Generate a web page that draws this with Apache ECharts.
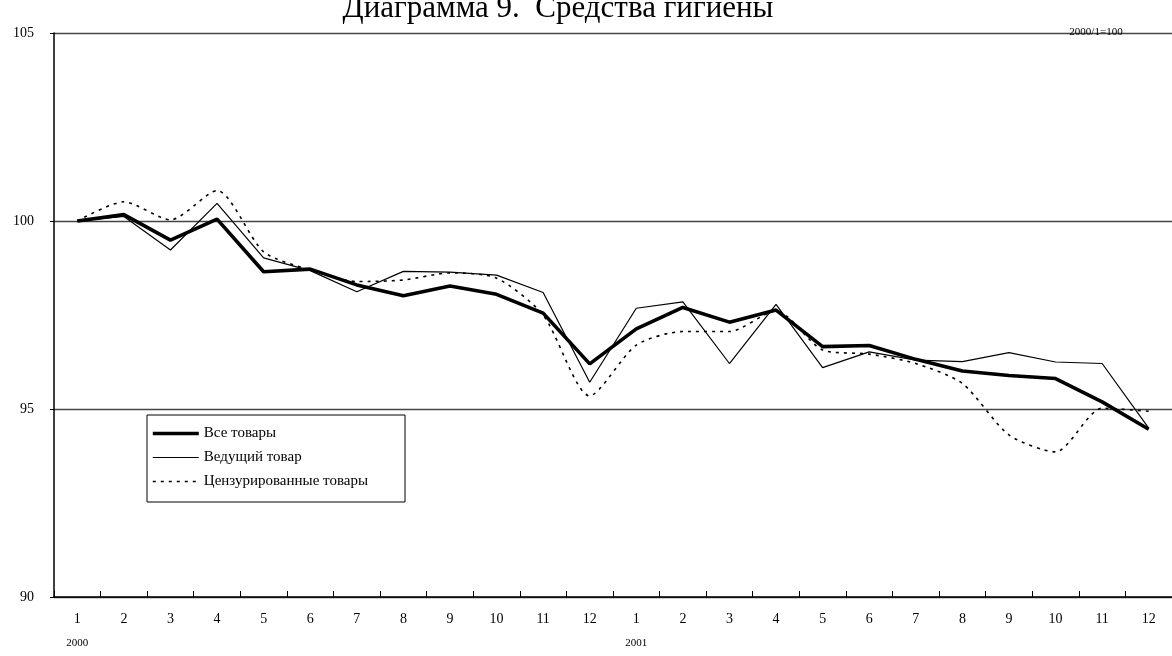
<!DOCTYPE html>
<html>
<head>
<meta charset="utf-8">
<script src="https://cdn.jsdelivr.net/npm/echarts@6/dist/echarts.min.js"></script>
<style>
  html, body { margin: 0; padding: 0; background: #fff; }
  #chart { width: 1172px; height: 656px; }
</style>
</head>
<body>
<div id="chart"></div>
<script>
// Monthly index of hygiene products, 2000/1 = 100
const months = ['1','2','3','4','5','6','7','8','9','10','11','12',
                '1','2','3','4','5','6','7','8','9','10','11','12'];
const years = ['2000','','','','','','','','','','','',
               '2001','','','','','','','','','','',''];

const allGoods = [100.0, 100.17, 99.49, 100.05, 98.65, 98.72, 98.30, 98.01, 98.27, 98.05, 97.55, 96.20,
                  97.13, 97.70, 97.31, 97.63, 96.66, 96.69, 96.32, 96.01, 95.89, 95.81, 95.19, 94.46];
const leadingGood = [100.0, 100.12, 99.23, 100.47, 99.02, 98.68, 98.12, 98.66, 98.64, 98.56, 98.10, 95.71,
                     97.68, 97.85, 96.21, 97.78, 96.10, 96.52, 96.30, 96.26, 96.50, 96.25, 96.21, 94.49];
const censoredGoods = [100.0, 100.51, 100.03, 100.81, 99.18, 98.70, 98.39, 98.43, 98.62, 98.48, 97.50, 95.35,
                       96.70, 97.06, 97.06, 97.61, 96.57, 96.46, 96.21, 95.68, 94.31, 93.86, 95.02, 94.94];

const seriesNames = ['Все товары', 'Ведущий товар', 'Цензурированные товары'];
const yTicks = [90, 95, 100, 105];

const serif = '"Liberation Serif", "DejaVu Serif", serif';

// line styles shared by the series and their legend keys
const styles = [
  { color: '#000', width: 3.6, type: 'solid' },
  { color: '#000', width: 1.2, type: 'solid' },
  { color: '#000', width: 1.6, type: [3, 5] }
];

const chart = echarts.init(document.getElementById('chart'), null, { renderer: 'canvas' });

chart.setOption({
  animation: false,
  backgroundColor: '#fff',
  color: ['#000', '#000', '#000'],
  textStyle: { fontFamily: serif, color: '#000' },
  title: [
    {
      text: 'Диаграмма 9.  Средства гигиены',
      left: 553, top: -12, textAlign: 'center',
      textStyle: { fontFamily: serif, fontSize: 31, fontWeight: 'normal', color: '#000' }
    },
    {
      text: '2000/1=100',
      left: 1091, top: 22, textAlign: 'center',
      textStyle: { fontFamily: serif, fontSize: 11, fontWeight: 'normal', color: '#000' }
    }
  ],
  legend: {
    orient: 'vertical',
    left: 147, top: 415,
    data: seriesNames.map(function (n, i) {
      return { name: n, lineStyle: styles[i] };
    }),
    itemWidth: 46, itemHeight: 12, itemGap: 9,
    itemStyle: { opacity: 0 },
    padding: [11, 37, 13, 4],
    backgroundColor: '#fff',
    borderColor: '#000', borderWidth: 1,
    textStyle: { fontFamily: serif, fontSize: 15, color: '#000' }
  },
  grid: { left: 54, right: 0, top: 33, bottom: 59, containLabel: false },
  xAxis: {
    type: 'category',
    data: months,
    boundaryGap: true,
    axisLine: { show: true, lineStyle: { color: '#000', width: 1.5 } },
    axisTick: { show: true, inside: true, length: 6, lineStyle: { color: '#000' } },
    axisLabel: {
      interval: 0, margin: 12,
      formatter: function (v, i) {
        return years[i] ? '{m|' + v + '}\n{y|' + years[i] + '}' : '{m|' + v + '}';
      },
      rich: {
        m: { fontFamily: serif, fontSize: 14, lineHeight: 20, color: '#000' },
        y: { fontFamily: serif, fontSize: 11, lineHeight: 28, color: '#000' }
      }
    },
    splitLine: { show: false }
  },
  yAxis: {
    type: 'value',
    min: yTicks[0], max: yTicks[yTicks.length - 1], interval: 5,
    axisLine: { show: true, lineStyle: { color: '#000', width: 1.5 } },
    axisTick: { show: true, length: 4, lineStyle: { color: '#000' } },
    axisLabel: { fontFamily: serif, fontSize: 14, color: '#000', margin: 20 },
    splitLine: { show: true, lineStyle: { color: '#444', width: 1.3 } }
  },
  series: [
    {
      name: seriesNames[0], type: 'line', data: allGoods,
      symbol: 'none', z: 5,
      lineStyle: styles[0]
    },
    {
      name: seriesNames[1], type: 'line', data: leadingGood,
      symbol: 'none', z: 4,
      lineStyle: styles[1]
    },
    {
      name: seriesNames[2], type: 'line', data: censoredGoods,
      symbol: 'none', z: 3, smooth: 0.25,
      lineStyle: styles[2]
    }
  ]
});
</script>
</body>
</html>
